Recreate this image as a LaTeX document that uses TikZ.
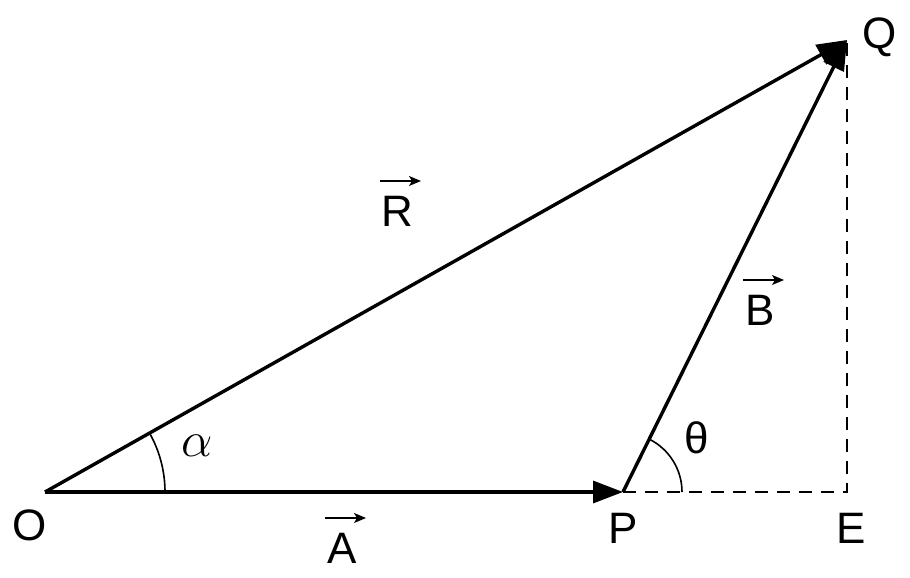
\documentclass[tikz,border=0pt]{standalone}
\usepackage{fontspec}
\setmainfont{Liberation Sans}
\usetikzlibrary{arrows.meta}
\usetikzlibrary{calc}

\begin{document}
\begin{tikzpicture}[x=0.5pt, y=-0.5pt,
    every node/.style={font=\fontsize{22}{26}\selectfont, inner sep=0},
    vector/.style={line width=1.7pt, -{Triangle[length=15pt, width=11pt]}},
    vecmark/.style={line width=0.7pt, -{Stealth[length=6pt, width=5pt, inset=1.5pt]}},
    helper/.style={line width=1.2pt, dash pattern=on 6.5pt off 4.5pt},
    anglearc/.style={line width=0.8pt}]
    \newcommand\alpharadius{120}
    \newcommand\thetaradius{59}

    \useasboundingbox (0, 0) rectangle (910, 578);

    \coordinate (O) at (45, 492);
    \coordinate (P) at (623, 492);
    \coordinate (E) at (847, 492);
    \coordinate (Q) at (847, 40);

    \draw[helper] (P) -- (E) -- (Q);

    \draw[vector] (O) -- (P);
    \draw[vector] (P) -- (Q);
    \draw[vector] (O) -- (Q);

    \draw[anglearc] ($(O)+(\alpharadius, 0)$)
        arc[radius=\alpharadius, start angle=0, delta angle=-29.4];
    \draw[anglearc] ($(P)+(\thetaradius, 0)$)
        arc[radius=\thetaradius, start angle=0, delta angle=-63.6];

    \node (O-label) at (30, 525) {O};
    \node (P-label) at (623, 528) {P};
    \node (E-label) at (851, 528) {E};
    \node (Q-label) at (880, 37) {Q};

    \node (A-label) at (342, 548) {A};
    \node (R-label) at (397, 211) {R};
    \node (B-label) at (760, 310) {B};

    \foreach \v in {A, R, B}
        \draw[vecmark] ($(\v-label)+(-17, -30)$) -- ($(\v-label)+(24, -30)$);

    \node[font=\fontsize{28}{32}\selectfont] (alpha-label) at (197, 446) {$\alpha$};
    \node (theta-label) at (697, 438) {θ};
\end{tikzpicture}
\end{document}
